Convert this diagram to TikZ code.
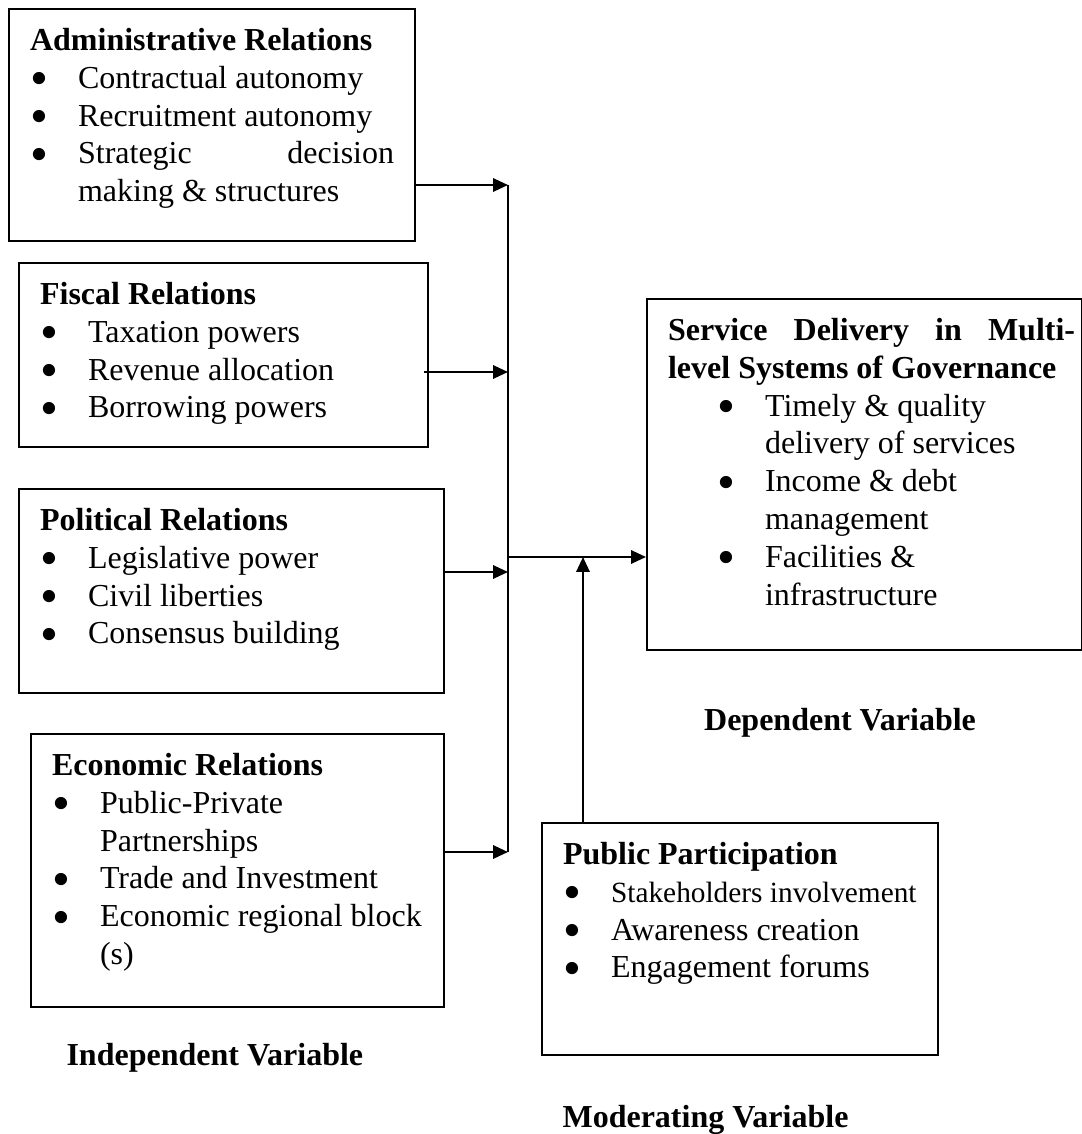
\documentclass[tikz,border=0pt]{standalone}
\usepackage{fontspec}
\setmainfont{Liberation Serif}
\usepackage{graphicx}
\usetikzlibrary{arrows.meta}

\newlength{\pxl}
\setlength{\pxl}{0.375pt}
% bullet with the text indent after it
\newcommand{\bul}{\makebox[48\pxl][l]{\smash{\raisebox{-0.23em}{\scalebox{1.6}{\textbullet}}}}}
% framed text block: width, height (px), contents
\newcommand{\boxtxt}[3]{\parbox[c][#2\pxl][t]{#1\pxl}{\vspace*{19\pxl}\leftskip=21\pxl #3\par}}

\begin{document}
\begin{tikzpicture}[x=0.375pt, y=-0.375pt,
    box/.style={draw, line width=0.8pt, inner sep=0pt, anchor=north west,
      font=\fontsize{12}{14.2}\selectfont},
    lbl/.style={inner sep=0pt, font=\fontsize{12}{14.2}\selectfont\bfseries},
    arr/.style={-{Triangle[length=5.6pt,width=5pt]}, line width=0.8pt}]
    \useasboundingbox (0,0) rectangle (1082,1134);

    % independent variables
    \node[box] (admin) at (8,8) {\boxtxt{406}{232}{%
        \textbf{Administrative Relations}\\
        \bul Contractual autonomy\\
        \bul Recruitment autonomy\\
        \bul \makebox[316\pxl][s]{Strategic decision}\\
        \hspace*{48\pxl}making \& structures}};
    \node[box] (fiscal) at (18,262) {\boxtxt{409}{184}{%
        \textbf{Fiscal Relations}\\
        \bul Taxation powers\\
        \bul Revenue allocation\\
        \bul Borrowing powers}};
    \node[box] (political) at (18,488) {\boxtxt{425}{204}{%
        \textbf{Political Relations}\\
        \bul Legislative power\\
        \bul Civil liberties\\
        \bul Consensus building}};
    \node[box] (economic) at (30,733) {\boxtxt{413}{273}{%
        \textbf{Economic Relations}\\
        \bul Public-Private\\
        \hspace*{48\pxl}Partnerships\\
        \bul Trade and Investment\\
        \bul Economic regional block\\
        \hspace*{48\pxl}(s)}};

    % dependent variable
    \node[box] (service) at (646,298) {\boxtxt{435}{351}{%
        \makebox[407\pxl][s]{\bfseries Service Delivery in Multi-}\\
        \textbf{level Systems of Governance}\\
        \hspace*{49\pxl}\bul Timely \& quality\\
        \hspace*{97\pxl}delivery of services\\
        \hspace*{49\pxl}\bul Income \& debt\\
        \hspace*{97\pxl}management\\
        \hspace*{49\pxl}\bul Facilities \&\\
        \hspace*{97\pxl}infrastructure}};

    % moderating variable
    \node[box] (public) at (541,822) {\boxtxt{396}{232}{%
        \textbf{Public Participation}\\
        \bul {\fontsize{11}{14.2}\selectfont Stakeholders involvement}\\
        \bul Awareness creation\\
        \bul Engagement forums}};

    \node[lbl] (dep) at (840,723) {Dependent Variable};
    \node[lbl, anchor=west] (indep) at (66,1058) {Independent Variable};
    \node[lbl, anchor=west] (mod) at (562,1120) {Moderating Variable};

    \coordinate (busA) at (508,185);
    \coordinate (busF) at (508,372);
    \coordinate (busP) at (508,572);
    \coordinate (busE) at (508,852);
    \coordinate (busS) at (508,557);
    \coordinate (modT) at (583,557);

    \draw[line width=0.8pt] (busA) -- (busE);
    \draw[arr] (admin.east |- busA) -- (busA);
    \draw[arr] ([xshift=-1.9pt]fiscal.east |- busF) -- (busF);
    \draw[arr] (political.east |- busP) -- (busP);
    \draw[arr] (economic.east |- busE) -- (busE);
    \draw[arr] (busS) -- (service.west |- busS);
    \draw[arr] (public.north -| modT) -- (modT);
\end{tikzpicture}
\end{document}
